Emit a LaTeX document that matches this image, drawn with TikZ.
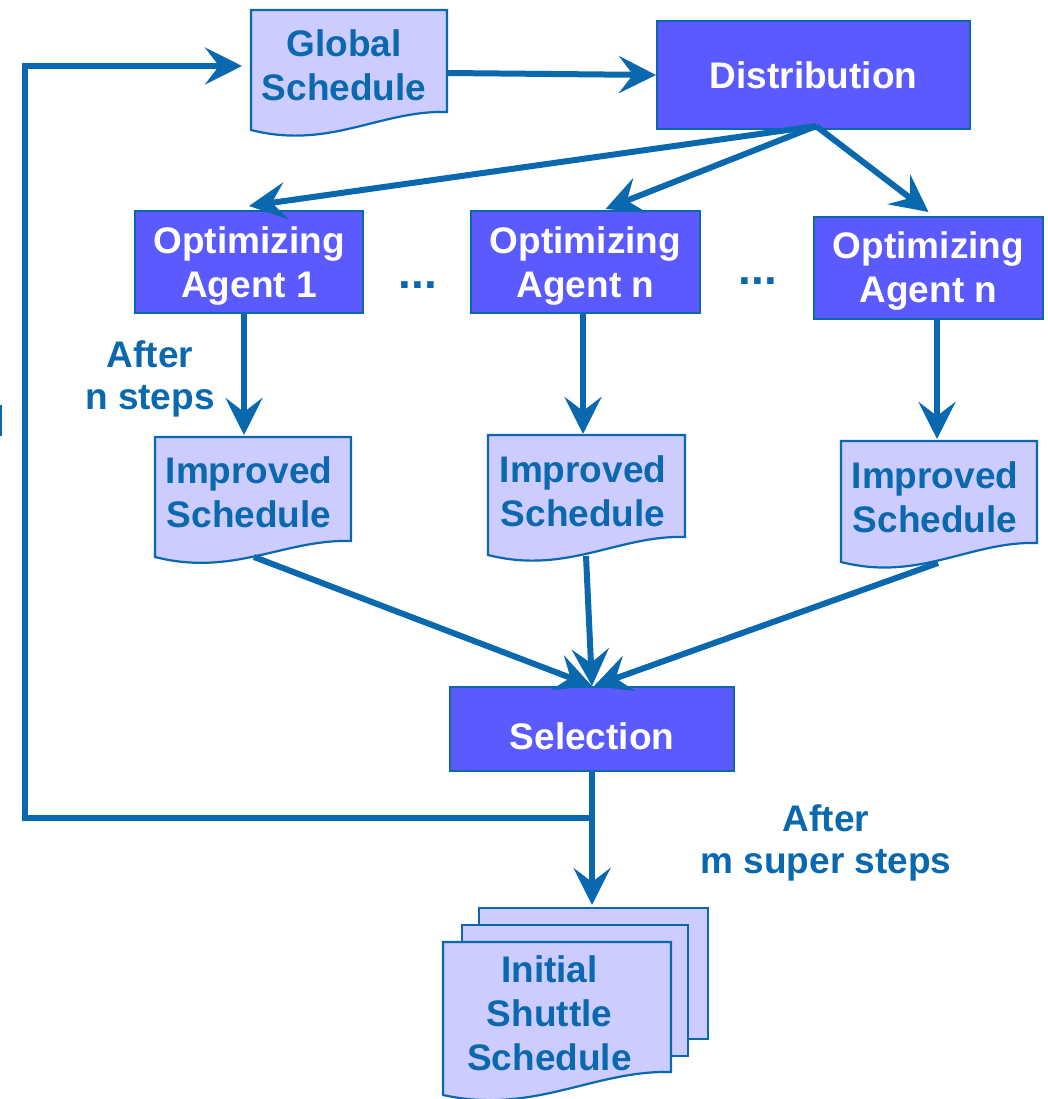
\documentclass[tikz,border=0pt]{standalone}
\usepackage{fontspec}
\setmainfont{Liberation Sans}
\usetikzlibrary{arrows.meta,backgrounds}

\definecolor{flowblue}{RGB}{10,104,175}
\definecolor{procfill}{RGB}{90,90,255}
\definecolor{docfill}{RGB}{204,204,255}

\newcommand\diagfont{\fontsize{37}{44}\selectfont\bfseries}
\newcommand\notefont{\fontsize{37}{42}\selectfont\bfseries}
\newcommand\gapfont{\fontsize{46}{46}\selectfont\bfseries}

% document sheet with a wavy lower edge: x0, top, x1, right bottom, left bottom
\newcommand\docsheet[5]{%
  \path[sheet] (#1,#2) -- (#3,#2) -- (#3,#4)
    .. controls ({#3-0.34*(#3-#1)},{#4-2}) and ({#1+0.4*(#3-#1)},{#5+20}) .. (#1,#5) -- cycle;}

\tikzset{
  proc/.style={draw=flowblue, line width=2pt, fill=procfill, text=white,
    font=\diagfont, inner sep=0pt, align=center},
  sheet/.style={draw=flowblue, line width=2.2pt, fill=docfill},
  doctext/.style={text=flowblue, font=\diagfont, inner sep=0pt, align=center, anchor=base},
  note/.style={text=flowblue, font=\notefont, inner sep=0pt, align=center, anchor=base},
  gapmark/.style={text=flowblue, font=\gapfont, inner sep=0pt, anchor=base},
  flow/.style={draw=flowblue, line width=6pt,
    -{Stealth[length=37pt, width=37pt, inset=14pt]}},
}

\begin{document}
\begin{tikzpicture}[x=1pt, y=-1pt, line join=miter]
\useasboundingbox (0,0) rectangle (1048,1099);

% process boxes (text height/depth measured from the last baseline)
\node[proc, minimum width=313pt, text height=68pt, text depth=40pt] (dist) at (813.5,75) {Distribution};
\node[proc, minimum width=228pt, text height=86pt, text depth=16pt] (ag1) at (249,262) {Optimizing\\Agent 1};
\node[proc, minimum width=229pt, text height=86pt, text depth=16pt] (ag2) at (585.5,262) {Optimizing\\Agent n};
\node[proc, minimum width=229pt, text height=85pt, text depth=17pt] (ag3) at (928.5,268) {Optimizing\\Agent n};
\node[proc, minimum width=284pt, text height=62pt, text depth=22pt] (sel) at (592,729) {Selection};

% document sheets
\begin{scope}[on background layer]
  \docsheet{251}{10}{447}{112}{130}
  \docsheet{155}{437}{351}{541}{557}
  \docsheet{488}{435}{685}{537}{555}
  \docsheet{841}{441}{1037}{543}{562}
  \path[sheet] (479,908) rectangle (708,1039);
  \path[sheet] (462,925) rectangle (688,1056);
  \docsheet{443}{942}{671}{1072}{1095}
\end{scope}

\node[doctext] (gs) at (344,101) {Global\\Schedule};
\node[doctext] (imp1) at (249,527) {Improved\\Schedule};
\node[doctext] (imp2) at (583,526) {Improved\\Schedule};
\node[doctext] (imp3) at (935,532) {Improved\\Schedule};
\node[doctext] (iss) at (549.5,1070) {Initial\\Shuttle\\Schedule};

% labels
\node[note] (nsteps) at (150,409) {After\\n steps};
\node[note] (msteps) at (826,873) {After\\m super steps};
\node[gapmark] (gap1) at (418,288) {...};
\node[gapmark] (gap2) at (758,284) {...};

% connector ends on the sheets
\coordinate (gs-in) at (242,66);
\coordinate (gs-out) at (447,73);
\coordinate (dist-out) at (816,126);
\coordinate (imp1-in) at (244,435);
\coordinate (imp2-in) at (583,434);
\coordinate (imp3-in) at (937,439);
\coordinate (imp1-out) at (254,557);
\coordinate (imp2-out) at (586,556);
\coordinate (imp3-out) at (938,563);
\coordinate (iss-in) at (592,905);
\coordinate (jn) at (592,818);
\coordinate (loopx) at (25,818);

% connectors
\draw[flow] (gs-out) -- (dist.west);
\draw[flow] (dist-out) -- ([yshift=4pt]ag1.north);
\draw[flow] (dist-out) -- ([xshift=20pt,yshift=1pt]ag2.north);
\draw[flow] (dist-out) -- ([yshift=4pt]ag3.north);
\draw[flow] ([xshift=-5pt]ag1.south) -- (imp1-in);
\draw[flow] ([xshift=-2.5pt]ag2.south) -- (imp2-in);
\draw[flow] ([xshift=8.5pt]ag3.south) -- (imp3-in);
\draw[flow] (imp1-out) -- (sel.north);
\draw[flow] (imp2-out) -- (sel.north);
\draw[flow] (imp3-out) -- ([xshift=2pt]sel.north);
\draw[flow] (sel.south) -- (iss-in);
\draw[flow] (jn) -- (loopx) |- (gs-in);

% sliver at the left margin
\fill[flowblue] (0,405) rectangle (1.5,436);
\end{tikzpicture}
\end{document}
